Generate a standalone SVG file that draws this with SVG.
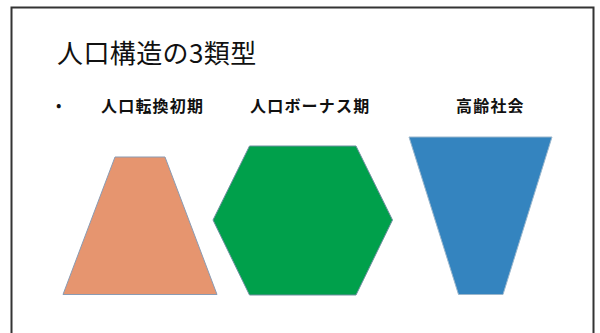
<svg xmlns="http://www.w3.org/2000/svg" width="600" height="333" viewBox="0 0 600 333">
<style>
.t{font-family:"Noto Sans CJK JP","Noto Sans",sans-serif;fill:#111}
.lbl{font-size:16px;font-weight:bold;letter-spacing:1.2px}
.shape{stroke-width:1}
</style>
<rect x="0" y="0" width="600" height="333" fill="#fff"/>
<path d="M11.5,345 V7.5 H593.5 V345" fill="none" stroke="#333" stroke-width="2"/>
<g id="title"><text class="t" x="57" y="63" font-size="26" letter-spacing="0.4">人口構造の3類型</text></g>
<g id="bullet"><text class="t" x="56" y="111" font-size="16">•</text></g>
<g id="label1"><text class="t lbl" x="101" y="111.5">人口転換初期</text></g>
<g id="label2"><text class="t lbl" x="250" y="111.5">人口ボーナス期</text></g>
<g id="label3"><text class="t lbl" x="456" y="111.5">高齢社会</text></g>
<g id="trapezoid"><polygon class="shape" points="115,157 165,157 217,294.5 63,294.5" fill="#E6956F" stroke="#8a9bb3"/></g>
<g id="hexagon"><polygon class="shape" points="249.5,146 356,146 392.5,220 356,295 249.5,295 213,220" fill="#00A04B" stroke="#6f8fa0" stroke-width="0.6"/></g>
<g id="funnel"><polygon class="shape" points="409,137 552,137 503,294.5 458.5,294.5" fill="#3484BF" stroke="#9ab6cc" stroke-width="0.6"/></g>
<g id="connectors"></g>
</svg>
